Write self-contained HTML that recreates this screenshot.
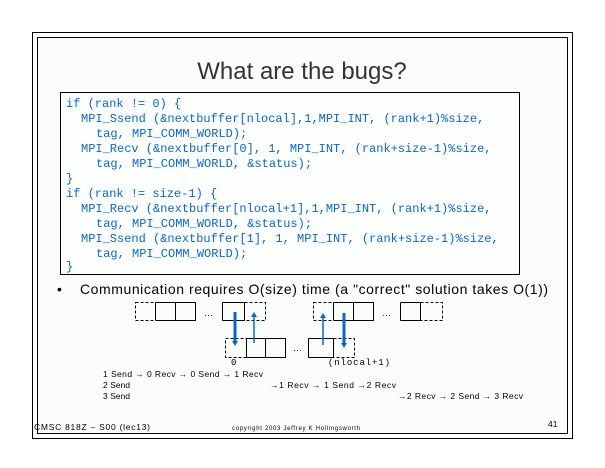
<!DOCTYPE html>
<html><head><meta charset="utf-8"><style>
html,body{margin:0;padding:0;background:#fff}
svg{display:block}
</style></head><body>
<svg width="605" height="468" xmlns="http://www.w3.org/2000/svg">
<rect x="32.5" y="32.5" width="540" height="406" fill="none" stroke="#000"/>
<rect x="37.5" y="37.5" width="530" height="396" fill="#fbfdfd" stroke="#000"/>
<text x="302" y="79" font-family="Liberation Sans, sans-serif" font-size="24" fill="#333" text-anchor="middle">What are the bugs?</text>
<rect x="60.5" y="92.5" width="459" height="182" fill="#fdfefe" stroke="#000"/>
<g font-family="Liberation Mono, monospace" font-size="12" fill="#0a66c8">
<text x="66" y="107">if (rank != 0) {</text>
<text x="81" y="122">MPI_Ssend (&amp;nextbuffer[nlocal],1,MPI_INT, (rank+1)%size,</text>
<text x="96" y="137">tag, MPI_COMM_WORLD);</text>
<text x="81" y="152">MPI_Recv (&amp;nextbuffer[0], 1, MPI_INT, (rank+size-1)%size,</text>
<text x="96" y="167">tag, MPI_COMM_WORLD, &amp;status);</text>
<text x="66" y="182">}</text>
<text x="66" y="197">if (rank != size-1) {</text>
<text x="81" y="212">MPI_Recv (&amp;nextbuffer[nlocal+1],1,MPI_INT, (rank+1)%size,</text>
<text x="96" y="227">tag, MPI_COMM_WORLD, &amp;status);</text>
<text x="81" y="242">MPI_Ssend (&amp;nextbuffer[1], 1, MPI_INT, (rank+size-1)%size,</text>
<text x="96" y="257">tag, MPI_COMM_WORLD);</text>
<text x="66" y="270">}</text>
</g>
<text x="57" y="294" font-family="Liberation Sans, sans-serif" font-size="14">•</text>
<text x="80" y="294" font-family="Liberation Sans, sans-serif" font-size="14" textLength="468">Communication requires O(size) time (a "correct" solution takes O(1))</text>
<g stroke="#000" fill="none" stroke-width="1">
<rect x="135.5" y="302.5" width="20" height="18" stroke-dasharray="3,2"/>
<path d="M155.5 302.5H196M155.5 320.5H196M155.5 302.5V320.5M175.5 302.5V320.5M195.5 302.5V320.5"/>
<path d="M222.5 302.5H245M222.5 320.5H245M222.5 302.5V320.5M244.5 302.5V320.5"/>
<rect x="244.5" y="302.5" width="21" height="18" stroke-dasharray="3,2"/>
<rect x="313.5" y="302.5" width="20" height="18" stroke-dasharray="3,2"/>
<path d="M333.5 302.5H374M333.5 320.5H374M333.5 302.5V320.5M353.5 302.5V320.5M373.5 302.5V320.5"/>
<path d="M400.5 302.5H421M400.5 320.5H421M400.5 302.5V320.5M420.5 302.5V320.5"/>
<rect x="420.5" y="302.5" width="22" height="18" stroke-dasharray="3,2"/>
<rect x="225.5" y="338.5" width="21" height="19" stroke-dasharray="3,2"/>
<path d="M246.5 338.5H286M246.5 357.5H286M246.5 338.5V357.5M265.5 338.5V357.5M285.5 338.5V357.5"/>
<path d="M308.5 338.5H334M308.5 357.5H334M308.5 338.5V357.5M333.5 338.5V357.5"/>
<rect x="333.5" y="338.5" width="21" height="19" stroke-dasharray="3,2"/>
</g>
<g font-family="Liberation Sans, sans-serif" font-size="9">
<text x="204" y="316">…</text><text x="382" y="316">…</text><text x="293" y="351">…</text>
</g>
<g stroke="#0a66c8">
<line x1="235" y1="312" x2="235" y2="342" stroke-width="3"/>
<line x1="254" y1="315" x2="254" y2="343" stroke-width="1.5"/>
<line x1="323" y1="316" x2="323" y2="345" stroke-width="1.5"/>
<line x1="344" y1="313" x2="344" y2="344" stroke-width="3"/>
</g>
<g fill="#0a66c8">
<path d="M232 341L238 341L235 346Z"/><path d="M251 317L257 317L254 312Z"/>
<path d="M320 318L326 318L323 313Z"/><path d="M341 343L347 343L344 348Z"/>
</g>
<text x="231" y="365" font-family="Liberation Mono, monospace" font-size="9">0</text>
<text x="328" y="365" font-family="Liberation Mono, monospace" font-size="9" textLength="62">(nlocal+1)</text>
<g font-family="Liberation Sans, sans-serif" font-size="8.5">
<text x="103" y="377" textLength="160">1 Send → 0 Recv → 0 Send → 1 Recv</text>
<text x="103" y="388">2 Send</text>
<text x="270" y="388" textLength="126">→1 Recv → 1 Send →2 Recv</text>
<text x="103" y="399">3 Send</text>
<text x="398" y="399" textLength="125">→2 Recv → 2 Send → 3 Recv</text>
<text x="34" y="430" textLength="116">CMSC 818Z – S00  (lec13)</text>
<text x="548" y="427">41</text>
</g>
<text x="232" y="430" font-family="Liberation Sans, sans-serif" font-size="6" textLength="128">copyright  2003 Jeffrey K Hollingsworth</text>
</svg>
</body></html>
